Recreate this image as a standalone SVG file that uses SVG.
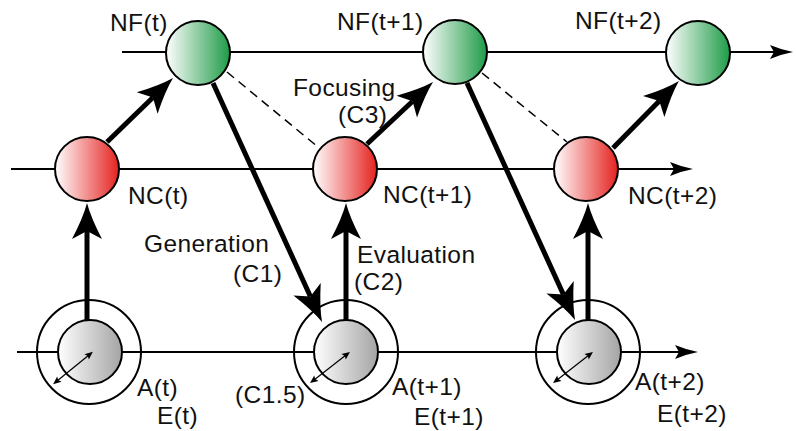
<svg xmlns="http://www.w3.org/2000/svg" width="796" height="431" viewBox="0 0 796 431">
<style>
text{font-family:"Liberation Sans",Arial,sans-serif;font-size:24.5px;fill:#111;letter-spacing:0.4px}
.ln{stroke:#000;stroke-width:2;fill:none}
.thick{stroke:#000;stroke-width:5;fill:none}
.dash{stroke:#000;stroke-width:1.5;fill:none;stroke-dasharray:9 6}
.node{stroke:#000;stroke-width:2}
.ring{stroke:#000;stroke-width:2;fill:none}
.small{stroke:#000;stroke-width:1.2;fill:none}
</style>
<defs>
<linearGradient id="gRed" x1="0" y1="0" x2="1" y2="0"><stop offset="0" stop-color="#ffffff"/><stop offset="1" stop-color="#e4221f"/></linearGradient>
<linearGradient id="gGreen" x1="0" y1="0" x2="1" y2="0"><stop offset="0" stop-color="#ffffff"/><stop offset="1" stop-color="#1e9b47"/></linearGradient>
<linearGradient id="gGray" x1="0" y1="0" x2="1" y2="0"><stop offset="0" stop-color="#ffffff"/><stop offset="1" stop-color="#a4a4a4"/></linearGradient>
<marker id="big" markerUnits="userSpaceOnUse" markerWidth="60" markerHeight="40" viewBox="-10 -20 60 40" refX="0" refY="0" orient="auto" overflow="visible">
<path d="M28,0 Q13,-4 -8,-15 L0,0 L-8,15 Q13,4 28,0 Z" fill="#000"/>
</marker>
<marker id="thin" markerUnits="userSpaceOnUse" markerWidth="40" markerHeight="20" viewBox="-10 -10 40 20" refX="0" refY="0" orient="auto" overflow="visible">
<path d="M19,0 Q8,-2 -4,-7 L0,0 L-4,7 Q8,2 19,0 Z" fill="#000"/>
</marker>
<marker id="tiny" markerUnits="userSpaceOnUse" markerWidth="16" markerHeight="12" viewBox="-6 -6 16 12" refX="0" refY="0" orient="auto-start-reverse" overflow="visible">
<path d="M5,0 L-3,-3.5 L-1.5,0 L-3,3.5 Z" fill="#000"/>
</marker>
</defs>

<g id="connectors">
<line class="ln" x1="122" y1="52" x2="774" y2="52" marker-end="url(#thin)"/>
<line class="ln" x1="11" y1="169" x2="674" y2="169" marker-end="url(#thin)"/>
<line class="ln" x1="17" y1="352" x2="679" y2="352" marker-end="url(#thin)"/>
<line class="dash" x1="227" y1="72" x2="318" y2="147"/>
<line class="dash" x1="482" y1="73" x2="567" y2="142"/>
<line class="thick" x1="87" y1="320" x2="87" y2="231" marker-end="url(#big)"/>
<line class="thick" x1="346" y1="320" x2="346" y2="231" marker-end="url(#big)"/>
<line class="thick" x1="588" y1="320" x2="588" y2="231" marker-end="url(#big)"/>
<line class="thick" x1="107" y1="142" x2="152.9" y2="97.5" marker-end="url(#big)"/>
<line class="thick" x1="367" y1="144" x2="412.6" y2="101.2" marker-end="url(#big)"/>
<line class="thick" x1="613" y1="148" x2="659.3" y2="100.9" marker-end="url(#big)"/>
<line class="thick" x1="213" y1="83" x2="310.4" y2="296.5" marker-end="url(#big)"/>
<line class="thick" x1="467" y1="83" x2="563.4" y2="294.5" marker-end="url(#big)"/>
</g>

<g id="NF_t"><circle class="node" cx="198" cy="53" r="32" fill="url(#gGreen)"/><text x="110" y="31">NF(t)</text></g>
<g id="NF_t1"><circle class="node" cx="455" cy="52" r="32" fill="url(#gGreen)"/><text x="337" y="30">NF(t+1)</text></g>
<g id="NF_t2"><circle class="node" cx="698" cy="53" r="32" fill="url(#gGreen)"/><text x="575" y="29">NF(t+2)</text></g>

<g id="NC_t"><circle class="node" cx="87" cy="169" r="32" fill="url(#gRed)"/><text x="128" y="204">NC(t)</text></g>
<g id="NC_t1"><circle class="node" cx="345" cy="169" r="32" fill="url(#gRed)"/><text x="383" y="203">NC(t+1)</text></g>
<g id="NC_t2"><circle class="node" cx="586" cy="169" r="32" fill="url(#gRed)"/><text x="628" y="204">NC(t+2)</text></g>

<g id="A_t">
<circle class="ring" cx="89" cy="352" r="52"/>
<circle class="node" cx="90" cy="352" r="32" fill="url(#gGray)"/>
<line class="small" x1="57" y1="381" x2="89" y2="355" marker-start="url(#tiny)" marker-end="url(#tiny)"/>
<text x="137" y="396">A(t)</text><text x="157" y="424">E(t)</text>
</g>
<g id="A_t1">
<circle class="ring" cx="346" cy="352" r="52"/>
<circle class="node" cx="346" cy="352" r="32" fill="url(#gGray)"/>
<line class="small" x1="314" y1="380" x2="346" y2="355" marker-start="url(#tiny)" marker-end="url(#tiny)"/>
<text x="392" y="395">A(t+1)</text><text x="414" y="425">E(t+1)</text>
</g>
<g id="A_t2">
<circle class="ring" cx="588" cy="352" r="52"/>
<circle class="node" cx="589" cy="352" r="32" fill="url(#gGray)"/>
<line class="small" x1="557" y1="380" x2="589" y2="355" marker-start="url(#tiny)" marker-end="url(#tiny)"/>
<text x="635" y="390">A(t+2)</text><text x="657" y="422">E(t+2)</text>
</g>

<g id="labels">
<text x="293" y="96">Focusing</text>
<text x="338" y="123">(C3)</text>
<text x="144" y="252">Generation</text>
<text x="233" y="282">(C1)</text>
<text x="357" y="263">Evaluation</text>
<text x="354" y="290">(C2)</text>
<text x="235" y="403">(C1.5)</text>
</g>
</svg>
